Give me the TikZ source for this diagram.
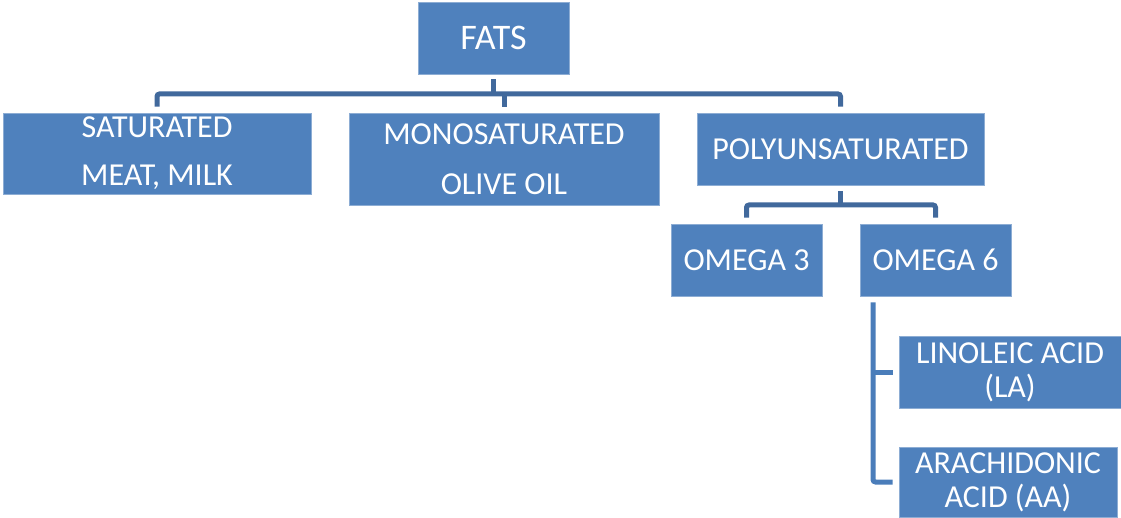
\documentclass[tikz,border=0pt]{standalone}
\usepackage{fontspec}
\setmainfont{Carlito}
\definecolor{boxblue}{HTML}{4F81BD}
\definecolor{linedark}{HTML}{41699C}
\definecolor{lineside}{HTML}{4A7DBA}
\begin{document}
\begin{tikzpicture}[x=1pt,y=-1pt,
  box/.style={rectangle, fill=boxblue, draw=boxblue!65!white, line width=0.8pt,
    text=white, align=center, inner sep=0pt, font=\fontsize{32}{34}\selectfont},
  conn/.style={draw=linedark, line width=5pt, rounded corners=2.5pt},
  conn2/.style={draw=lineside, line width=5pt, rounded corners=2.5pt}]
\useasboundingbox (0,0) rectangle (1121,518);

\node[box, minimum width=151pt, minimum height=72pt, font=\fontsize{36}{40}\selectfont] (fats) at (493.5,38) {FATS};
\node[box, minimum width=308pt, minimum height=81pt] (sat) at (157,153.5) {SATURATED\\[14pt]MEAT, MILK};
\node[box, minimum width=310pt, minimum height=92pt] (mono) at (504,159) {MONOSATURATED\\[16pt]OLIVE OIL};
\node[box, minimum width=287pt, minimum height=72pt] (poly) at (840.5,149) {POLYUNSATURATED};
\node[box, minimum width=151pt, minimum height=72pt] (o3) at (746.5,260) {OMEGA 3};
\node[box, minimum width=151pt, minimum height=72pt] (o6) at (935.5,260) {OMEGA 6};
\node[box, minimum width=222pt, minimum height=72pt] (la) at (1010,372) {LINOLEIC ACID\\(LA)};
\node[box, minimum width=218pt, minimum height=70pt] (aa) at (1008,482) {ARACHIDONIC\\ACID (AA)};

\coordinate (bar) at (0,94);
\coordinate (bar2) at (0,205);
\coordinate (side) at (873,0);

\draw[conn] ([yshift=-5pt]fats.south) -- (fats.south |- bar);
\draw[conn] ([yshift=6pt]sat.north) -- (sat.north |- bar) -- (poly.north |- bar) -- ([yshift=6pt]poly.north);
\draw[conn] (mono.north |- bar) -- ([yshift=6pt]mono.north);

\draw[conn] ([yshift=-6pt]poly.south) -- (poly.south |- bar2);
\draw[conn] ([yshift=6pt]o3.north) -- (o3.north |- bar2) -- (o6.north |- bar2) -- ([yshift=6pt]o6.north);

\draw[conn2] ([yshift=-6pt]o6.south -| side) -- (side |- aa.west) -- ([xshift=-6pt]aa.west);
\draw[conn2] (side |- la.west) -- ([xshift=-6pt]la.west);
\end{tikzpicture}
\end{document}
